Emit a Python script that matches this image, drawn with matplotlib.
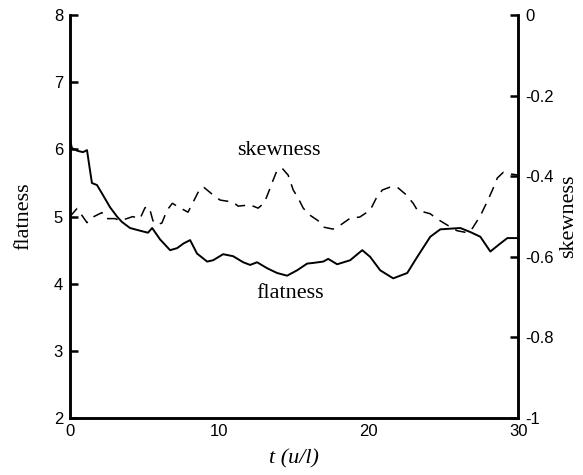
import numpy as np
import matplotlib
matplotlib.use('Agg')
import matplotlib.pyplot as plt

# flatness (left axis) and skewness (right axis) against t
t_flat = [0.0, 0.13, 0.5, 0.87, 1.14, 1.3, 1.47, 1.81, 2.21, 2.68, 3.15, 3.48,
          4.02, 4.69, 5.22, 5.5, 6.03, 6.7, 7.17, 7.6, 8.04, 8.5, 9.18, 9.58,
          10.25, 10.92, 11.59, 12.06, 12.52, 13.2, 13.86, 14.53, 15.2, 15.87,
          16.28, 16.95, 17.28, 17.88, 18.75, 19.56, 20.09, 20.76, 21.63, 22.57,
          23.24, 24.11, 24.78, 26.12, 26.79, 27.46, 28.13, 28.8, 29.27, 30.0]
flatness = [6.15, 6.02, 5.98, 5.96, 5.99, 5.75, 5.5, 5.47, 5.32, 5.14, 5.0, 4.92,
            4.83, 4.79, 4.76, 4.83, 4.66, 4.5, 4.53, 4.6, 4.65, 4.45, 4.33, 4.35,
            4.44, 4.41, 4.32, 4.28, 4.32, 4.23, 4.16, 4.12, 4.2, 4.3,
            4.31, 4.33, 4.37, 4.29, 4.35, 4.5, 4.4, 4.2, 4.08, 4.16,
            4.4, 4.7, 4.81, 4.83, 4.77, 4.7, 4.48, 4.6, 4.68, 4.68]

t_skew = [0.0, 0.47, 0.67, 1.14, 1.6, 2.14, 2.34, 3.0, 3.4, 4.2, 4.69, 5.02,
          5.3, 5.55, 5.83, 6.15, 6.5, 6.85, 7.25, 7.9, 8.2, 8.71, 8.95, 9.6,
          10.05, 10.92, 11.25, 12.06, 12.59, 13.0, 13.26, 13.6, 13.86, 14.2,
          14.6, 14.94, 15.27, 15.61, 16.0, 16.6, 16.95, 17.6, 18.1, 18.75,
          19.4, 20.09, 20.5, 20.9, 21.4, 21.9, 22.44, 22.97, 23.24, 24.11,
          24.58, 25.2, 25.9, 26.59, 26.93, 27.46, 27.93, 28.27, 28.6, 29.0,
          29.47, 30.0]
skewness = [-0.50, -0.48, -0.49, -0.515, -0.50, -0.49, -0.505, -0.505, -0.51, -0.50, -0.505, -0.478,
            -0.476, -0.51, -0.52, -0.516, -0.484, -0.467, -0.476, -0.489, -0.467, -0.43, -0.427, -0.447,
            -0.459, -0.464, -0.474, -0.471, -0.479, -0.466, -0.442, -0.409, -0.385, -0.38,
            -0.397, -0.434, -0.454, -0.479, -0.495, -0.51, -0.526, -0.531, -0.521, -0.504,
            -0.501, -0.484, -0.454, -0.434, -0.427, -0.427, -0.444, -0.467, -0.484, -0.493,
            -0.506, -0.52, -0.535, -0.54, -0.529, -0.498, -0.462, -0.434, -0.404, -0.39,
            -0.394, -0.397]

xticks = [0, 10, 20, 30]
flat_ticks = [2, 3, 4, 5, 6, 7, 8]
skew_ticks = [-1, -0.8, -0.6, -0.4, -0.2, 0]
skew_labels = ['-1', '-0.8', '-0.6', '-0.4', '-0.2', '0']

serif = 'Liberation Serif'
sans = 'Liberation Sans'

fig = plt.figure(figsize=(5.83, 4.75), dpi=100)
ax = fig.add_axes([0.120, 0.120, 0.769, 0.848])
ax2 = ax.twinx()

ax.plot(t_flat, flatness, color='k', linewidth=1.4)
ax2.plot(t_skew, skewness, color='k', linewidth=1.1, linestyle=(0, (7, 5)))

ax.set_xlim(0, 30)
ax.set_ylim(2, 8)
ax2.set_ylim(-1, 0)

ax.set_xticks(xticks)
ax.set_xticklabels([str(v) for v in xticks], fontname=sans, fontsize=12)
ax.set_yticks(flat_ticks)
ax.set_yticklabels([str(v) for v in flat_ticks], fontname=sans, fontsize=12)
ax2.set_yticks(skew_ticks)
ax2.set_yticklabels(skew_labels, fontname=sans, fontsize=12)

ax.tick_params(axis='x', length=0, pad=4)
ax.tick_params(axis='y', direction='in', length=6, width=1.8, pad=5)
ax2.tick_params(axis='y', direction='in', length=6, width=1.8, pad=5)

for a in (ax, ax2):
    a.spines['top'].set_visible(False)
    for s in ('left', 'right', 'bottom'):
        a.spines[s].set_linewidth(1.8)

ax.set_ylabel('flatness', fontname=serif, fontsize=16, labelpad=15)
ax2.set_ylabel('skewness', fontname=serif, fontsize=16, labelpad=4)
ax.set_xlabel('t (u/l)', fontname=serif, fontstyle='italic', fontsize=16, labelpad=8)

ax.text(14.0, 5.98, 'skewness', fontname=serif, fontsize=16, ha='center', va='center')
ax.text(14.7, 3.86, 'flatness', fontname=serif, fontsize=16, ha='center', va='center')

fig.savefig('out.png', dpi=100)
